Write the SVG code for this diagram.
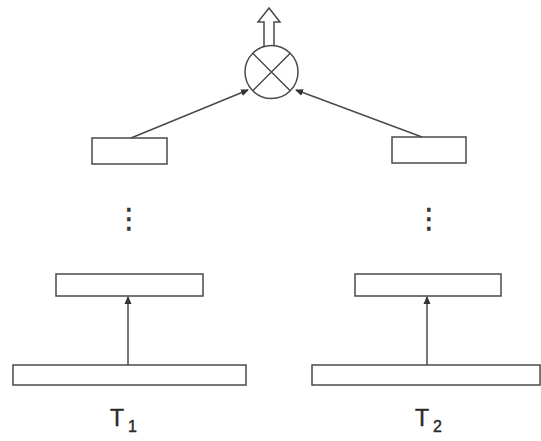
<svg xmlns="http://www.w3.org/2000/svg" width="541" height="441" viewBox="0 0 541 441">
<defs>
<style>
.box{fill:#fff;stroke:#4a4a4a;stroke-width:1.5}
.ln{fill:none;stroke:#4a4a4a;stroke-width:1.5}
.lbl{font-family:"Liberation Sans",sans-serif;font-size:23px;fill:#2a2a2a;stroke:#2a2a2a;stroke-width:0.4}
.dots{font-family:"DejaVu Sans",sans-serif;font-size:28px;fill:#333;stroke:#333;stroke-width:0.5;text-anchor:middle}
</style>
<marker id="ah" markerWidth="8" markerHeight="8" refX="7" refY="4" orient="auto" markerUnits="userSpaceOnUse">
<path d="M0,0.5 L8,4 L0,7.5 Z" fill="#333"/>
</marker>
</defs>
<rect width="541" height="441" fill="#fff"/>
<g id="output">
<path class="ln" d="M264,46 L264,22 L258,22 L269,8 L280,22 L274,22 L274,46"/>
</g>
<g id="combine">
<circle class="ln" cx="271.5" cy="72" r="26.5"/>
<path class="ln" d="M252.8,53.3 L290.2,90.7 M290.2,53.3 L252.8,90.7"/>
</g>
<g id="top-left"><rect class="box" x="92" y="138" width="75" height="26"/></g>
<g id="top-right"><rect class="box" x="392" y="137" width="74" height="26"/></g>
<g id="dots-left"><text class="dots" x="129" y="228">⋮</text></g>
<g id="dots-right"><text class="dots" x="429" y="228">⋮</text></g>
<g id="mid-left"><rect class="box" x="56" y="274" width="147" height="22"/></g>
<g id="mid-right"><rect class="box" x="355" y="274" width="146" height="22"/></g>
<g id="bottom-left"><rect class="box" x="13" y="365" width="233" height="20"/></g>
<g id="bottom-right"><rect class="box" x="312" y="365" width="228" height="20"/></g>
<g id="label-t1"><text class="lbl" x="110" y="426">T<tspan font-size="16" dx="4" dy="6">1</tspan></text></g>
<g id="label-t2"><text class="lbl" x="415" y="426">T<tspan font-size="16" dx="4" dy="6">2</tspan></text></g>
<g id="connectors">
<line class="ln" x1="131" y1="138" x2="248" y2="90" marker-end="url(#ah)"/>
<line class="ln" x1="422" y1="137" x2="296" y2="90" marker-end="url(#ah)"/>
<line class="ln" x1="128" y1="365" x2="128" y2="297" marker-end="url(#ah)"/>
<line class="ln" x1="427" y1="365" x2="427" y2="297" marker-end="url(#ah)"/>
</g>
</svg>
